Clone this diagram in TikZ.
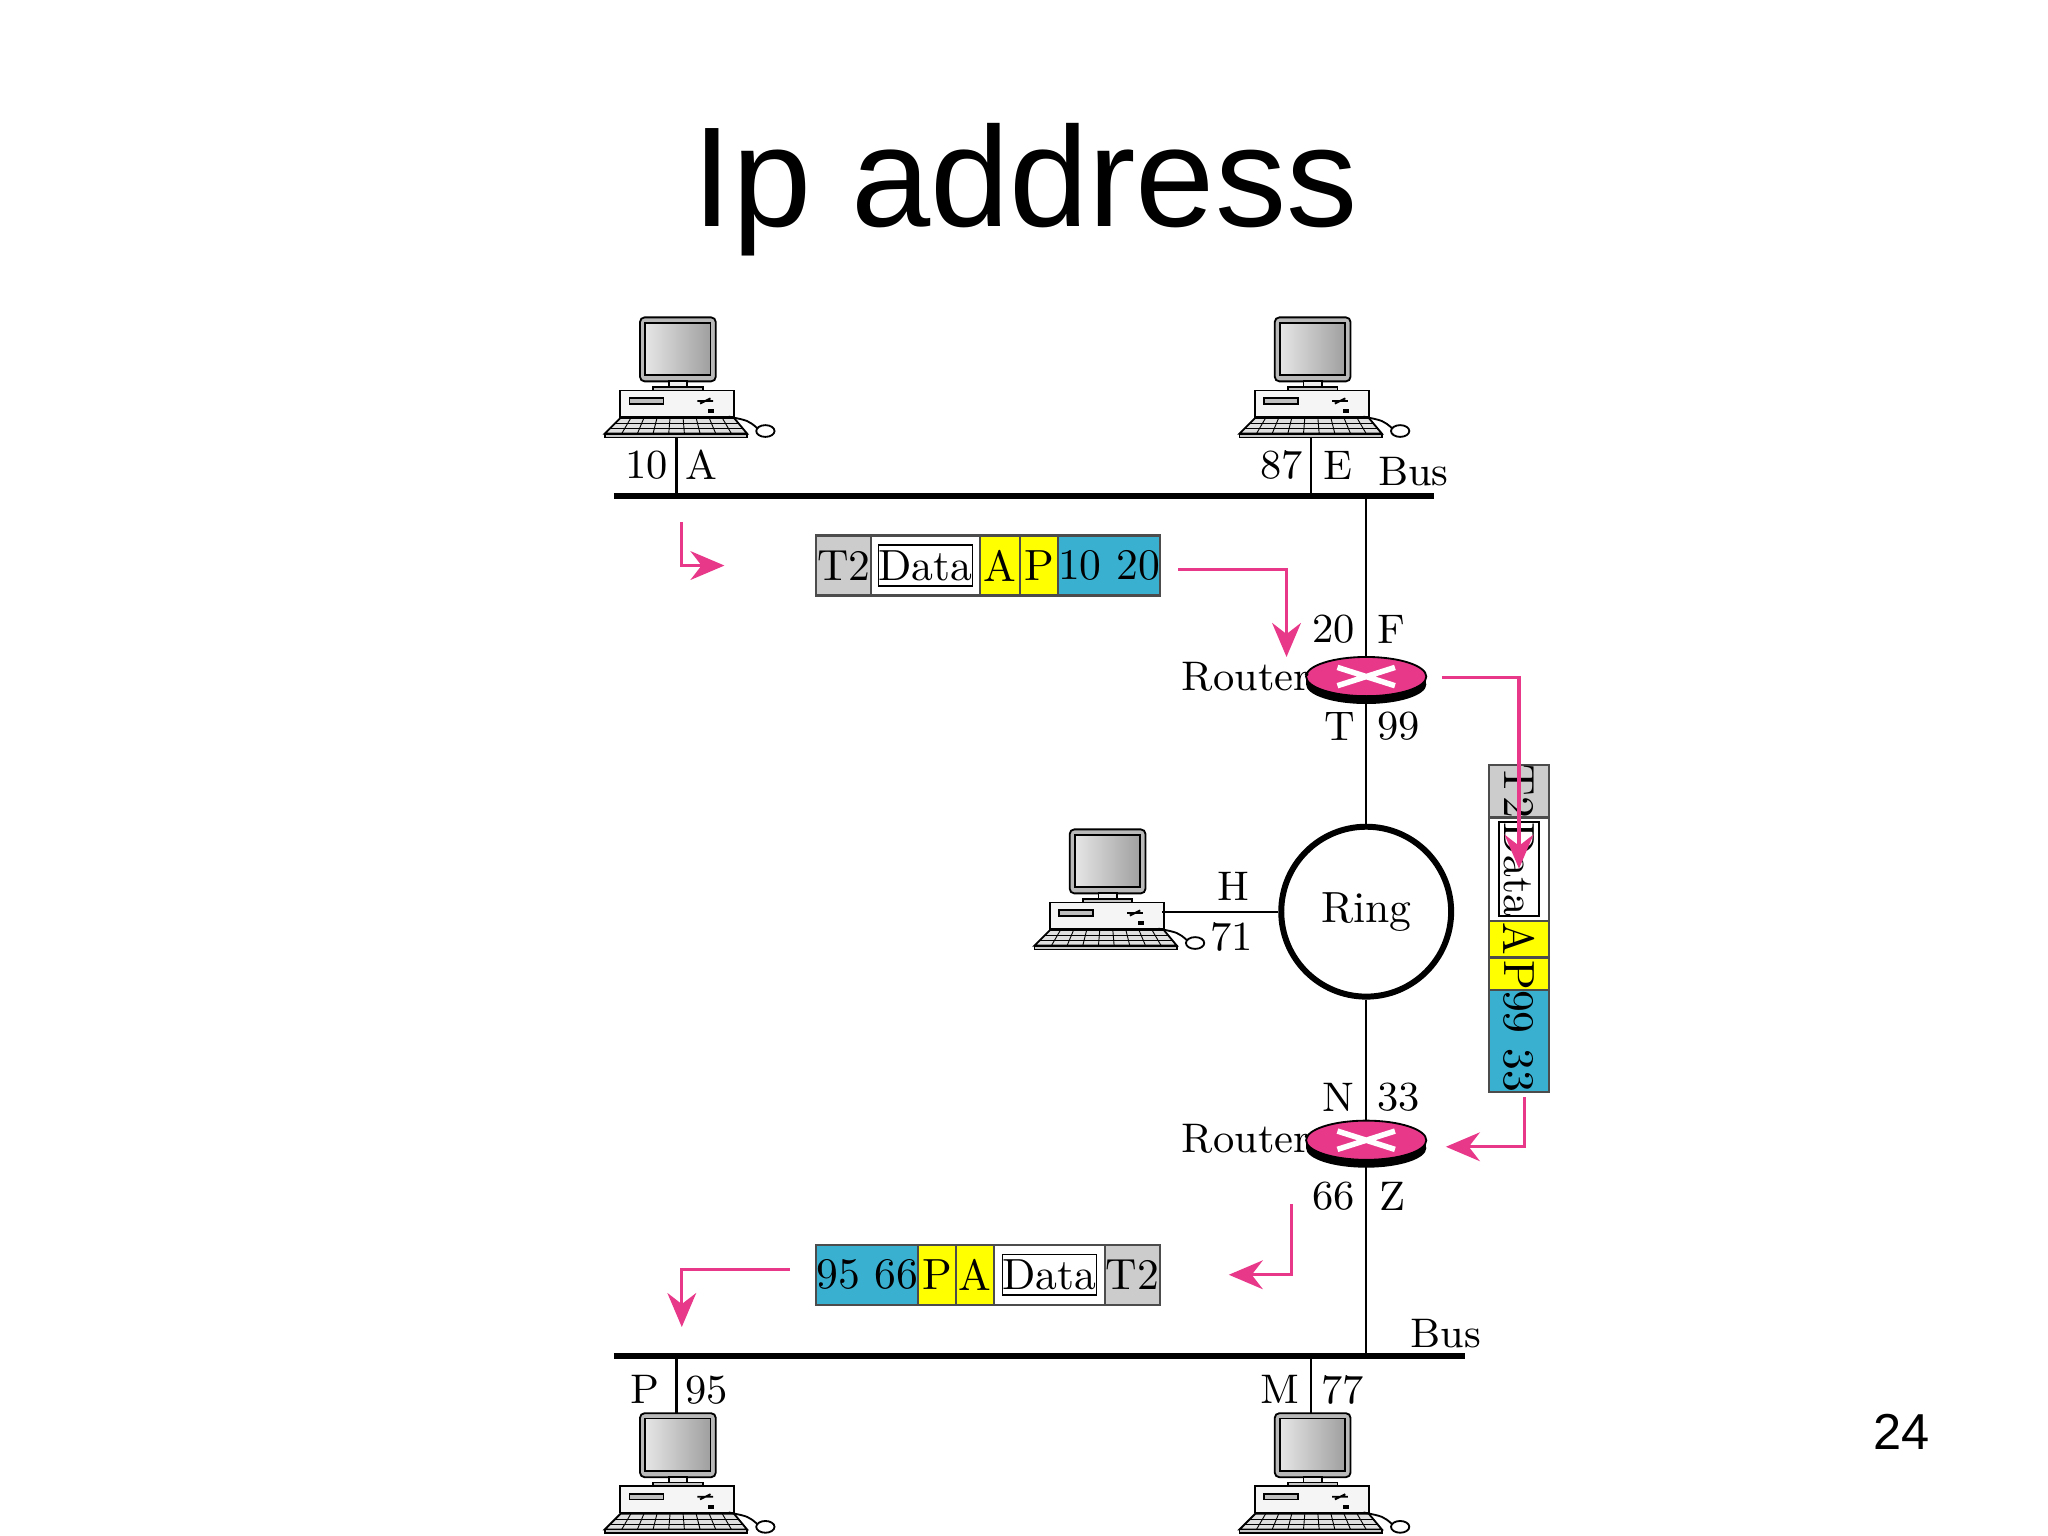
\documentclass[tikz,border=0pt]{standalone}
\usepackage{fontspec}
\newfontfamily\titlefont{Liberation Sans}
\usetikzlibrary{arrows.meta}
\usetikzlibrary{positioning}

\definecolor{pinkarr}{HTML}{E8388A}
\definecolor{cellblue}{HTML}{3AB0D0}
\definecolor{cellgray}{HTML}{CCCCCC}
\definecolor{cellyellow}{HTML}{FFFF00}

\tikzset{
	lbl/.style={font=\fontsize{9}{10}\selectfont,inner sep=0pt},
	cell/.style={draw=black!70,line width=0.5pt,minimum height=0.46cm,inner sep=0pt,outer sep=0pt,font=\fontsize{9.5}{10}\selectfont},
	pkarrow/.style={draw=pinkarr,line width=0.7pt,-{Stealth[length=2.6mm,width=2.2mm]}},
	wire/.style={line width=0.5pt},
	bus/.style={line width=1.3pt},
	pics/computer/.style={code={
		\draw[fill=gray!55,rounded corners=1pt] (-28,-92) rectangle (30,-43);
		\shade[draw=black,left color=gray!20,right color=gray!75] (-24,-88) rectangle (26,-48);
		\draw[fill=gray!15] (-6,-43) rectangle (8,-39);
		\draw[fill=gray!45] (-18,-39) rectangle (20,-36);
		\draw[fill=gray!8] (-43,-36) rectangle (44,-16);
		\draw[fill=gray!50] (-36,-30) rectangle (-10,-26);
		\draw (16,-28) -- (28,-28) (18,-26) -- (26,-30);
		\fill (24,-22) rectangle (29,-19);
		\draw[fill=gray!25] (-43,-15) -- (44,-15) -- (54,-3) -- (-55,-3) -- cycle;
		\draw[fill=gray!45] (-55,-3) rectangle (54,0);
		\foreach \k in {-35,-25,...,35} \draw[line width=0.2pt] (\k,-15) -- (\k*1.2,-3);
		\draw[line width=0.2pt] (-47,-11) -- (48,-11) (-51,-7) -- (51,-7);
		\draw (40,-16) .. controls (55,-13) .. (62,-7);
		\draw (68,-5) ellipse (0.07cm and 0.045cm);
	}},
	pics/router/.style={code={
		\fill (0,6) ellipse (0.46cm and 0.15cm);
		\fill (-46,0) rectangle (46,6);
		\draw[fill=pinkarr] (0,0) ellipse (0.46cm and 0.15cm);
		\draw[white,line width=1.2pt] (-22,-7) -- (22,7) (-22,7) -- (22,-7);
	}}
}

\begin{document}
\begin{tikzpicture}[x=0.01cm,y=-0.01cm]
	\useasboundingbox (0,0) rectangle (1568,1176);
	
	\node[font=\titlefont\fontsize{31}{34}\selectfont] (title) at (785,145) {Ip address};
	\node[font=\titlefont\fontsize{11}{12}\selectfont] (pageno) at (1456,1096) {24};
	
	% hosts
	\pic at (518,335) {computer};
	\pic at (1004,335) {computer};
	\pic at (847,727) {computer};
	\pic at (518,1174) {computer};
	\pic at (1004,1174) {computer};
	\coordinate (hA) at (518,335);
	\coordinate (hE) at (1004,335);
	\coordinate (hH) at (890,698);
	\coordinate (hP) at (518,1082);
	\coordinate (hM) at (1004,1082);
	
	% buses
	\coordinate (busTl) at (470,380);
	\coordinate (busTr) at (1098,380);
	\coordinate (busBl) at (470,1038);
	\coordinate (busBr) at (1122,1038);
	\draw[bus] (busTl) -- (busTr);
	\draw[bus] (busBl) -- (busBr);
	\draw[wire] (hA) -- (hA |- busTl);
	\draw[wire] (hE) -- (hE |- busTl);
	\draw[wire] (hP) -- (hP |- busBl);
	\draw[wire] (hM) -- (hM |- busBl);
	
	% routers and ring
	\coordinate (rt1) at (1046,518);
	\coordinate (rt2) at (1046,873);
	\node[circle,draw,line width=1.3pt,minimum size=1.3cm,inner sep=0pt,font=\fontsize{9.5}{10}\selectfont] (ring) at (1046,698) {Ring};
	\draw[wire] (1046,380) -- ([yshift=-15]rt1);
	\draw[wire] ([yshift=20]rt1) -- (ring.north);
	\draw[wire] (ring.south) -- ([yshift=-15]rt2);
	\draw[wire] ([yshift=20]rt2) -- (1046,1038);
	\draw[wire] (hH) -- (ring.west);
	\pic at (rt1) {router};
	\pic at (rt2) {router};
	
	% labels
	\node[lbl] (l10) at (495,356) {10};
	\node[lbl] (lA) at (537,356) {A};
	\node[lbl] (l87) at (981,356) {87};
	\node[lbl] (lE) at (1024,356) {E};
	\node[lbl] (lbus1) at (1082,361) {Bus};
	\node[lbl] (l20) at (1021,482) {20};
	\node[lbl] (lF) at (1065,482) {F};
	\node[lbl] (lrt1) at (954,518) {Router};
	\node[lbl] (lT) at (1026,556) {T};
	\node[lbl] (l99) at (1071,556) {99};
	\node[lbl] (lH) at (944,679) {H};
	\node[lbl] (l71) at (943,717) {71};
	\node[lbl] (lN) at (1025,840) {N};
	\node[lbl] (l33) at (1071,840) {33};
	\node[lbl] (lrt2) at (954,872) {Router};
	\node[lbl] (l66) at (1021,916) {66};
	\node[lbl] (lZ) at (1066,916) {Z};
	\node[lbl] (lbus2) at (1107,1021) {Bus};
	\node[lbl] (lP) at (494,1064) {P};
	\node[lbl] (l95) at (541,1064) {95};
	\node[lbl] (lM) at (980,1064) {M};
	\node[lbl] (l77) at (1028,1064) {77};
	
	% packet A -> router
	\node[cell,fill=cellgray,minimum width=0.42cm,anchor=west] (pa1) at (625,433) {T2};
	\node[cell,minimum width=0.83cm,right=0pt of pa1] (pa2) {};
	\node[draw,line width=0.4pt,minimum width=0.68cm,minimum height=0.31cm,inner sep=0pt,font=\fontsize{9.5}{10}\selectfont] at (pa2) {Data};
	\node[cell,fill=cellyellow,minimum width=0.31cm,right=0pt of pa2] (pa3) {A};
	\node[cell,fill=cellyellow,minimum width=0.29cm,right=0pt of pa3] (pa4) {P};
	\node[cell,fill=cellblue,minimum width=0.77cm,right=0pt of pa4] (pa5) {10 20};
	
	% packet router -> router
	\node[cell,fill=cellgray,minimum width=0.40cm,rotate=-90] (pb1) at (1163,606) {T2};
	\node[cell,minimum width=0.79cm,rotate=-90] (pb2) at (1163,665.5) {};
	\node[draw,line width=0.4pt,minimum width=0.66cm,minimum height=0.31cm,inner sep=0pt,rotate=-90,font=\fontsize{9.5}{10}\selectfont] at (pb2) {Data};
	\node[cell,fill=cellyellow,minimum width=0.28cm,rotate=-90] (pb3) at (1163,719) {A};
	\node[cell,fill=cellyellow,minimum width=0.28cm,rotate=-90] (pb4) at (1163,747) {P};
	\node[cell,fill=cellblue,minimum width=0.72cm,rotate=-90] (pb5) at (1163,797) {99 33};
	
	% packet router -> P
	\node[cell,fill=cellblue,minimum width=0.77cm,anchor=west] (pc1) at (625,976) {95 66};
	\node[cell,fill=cellyellow,minimum width=0.29cm,right=0pt of pc1] (pc2) {P};
	\node[cell,fill=cellyellow,minimum width=0.29cm,right=0pt of pc2] (pc3) {A};
	\node[cell,minimum width=0.85cm,right=0pt of pc3] (pc4) {};
	\node[draw,line width=0.4pt,minimum width=0.72cm,minimum height=0.31cm,inner sep=0pt,font=\fontsize{9.5}{10}\selectfont] at (pc4) {Data};
	\node[cell,fill=cellgray,minimum width=0.42cm,right=0pt of pc4] (pc5) {T2};
	
	% flow arrows
	\coordinate (f1) at (522,400);
	\coordinate (f2) at (902,436);
	\coordinate (f3) at (1104,519);
	\coordinate (f4) at (1167,840);
	\coordinate (f5) at (989,922);
	\coordinate (f6) at (605,972);
	\draw[pkarrow] (f1) |- ([xshift=-20]pa1.west);
	\draw[pkarrow] (f2) -| (985,503);
	\draw[pkarrow] (f3) -| ([yshift=-11]pb1.east);
	\draw[pkarrow] (f4) |- (1107,878);
	\draw[pkarrow] (f5) |- ([xshift=15]pc5.east);
	\draw[pkarrow] (f6) -| (522,1016);
\end{tikzpicture}
\end{document}
